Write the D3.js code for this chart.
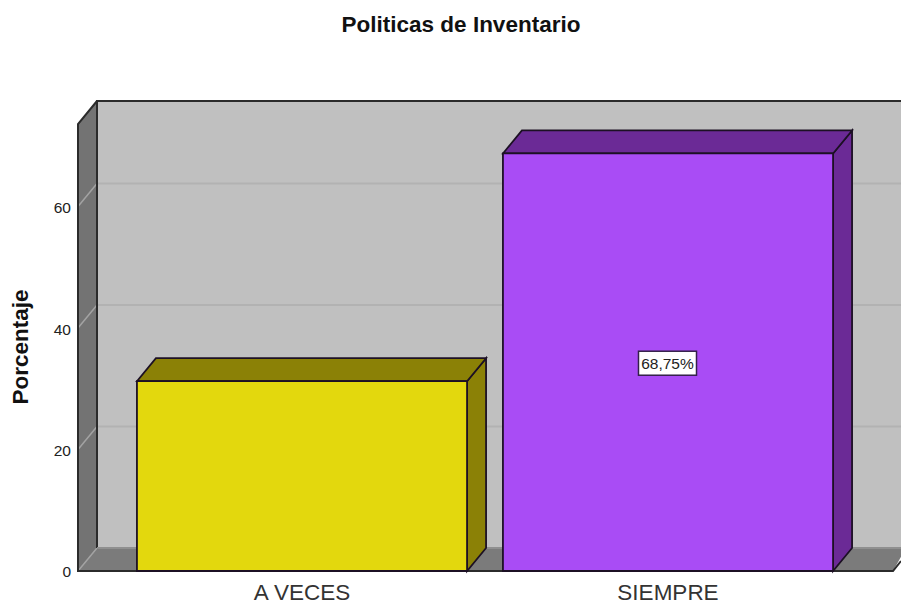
<!DOCTYPE html>
<html>
<head>
<meta charset="utf-8">
<script src="https://cdn.jsdelivr.net/npm/d3@7"></script>
<style>
  html, body { margin: 0; padding: 0; background: #fff; }
  svg { display: block; }
  text { font-family: "Liberation Sans", Arial, sans-serif; }
</style>
</head>
<body>
<div id="chart"></div>
<script>
var chartTitle = "Politicas de Inventario";
var yTitle = "Porcentaje";
var categories = ["A VECES", "SIEMPRE"];
var values = [31.25, 68.75];
var barLabels = ["", "68,75%"];
var yTicks = [0, 20, 40, 60];
var frontColors = ["#e3d80d", "#a94cf5"];
var sideColors = ["#8b8106", "#6b2a96"];

var width = 901, height = 604;
// depth offset of the fake 3d box
var depthX = 19, depthY = -23;

var svg = d3.select("#chart")
  .append("svg")
    .attr("width", width)
    .attr("height", height);

var x = d3.scaleBand()
  .domain(categories)
  .range([119, 851])
  .paddingInner(0.098)
  .paddingOuter(0.049);

var y = d3.scaleLinear()
  .domain([0, 73.6])
  .range([571, 124]);

var left = 78, right = 893;
var line = d3.line();

function poly(points, fill, stroke, sw) {
  svg.append("path")
    .attr("d", line(points) + "Z")
    .attr("fill", fill)
    .attr("stroke", stroke || "none")
    .attr("stroke-width", sw || 0)
    .attr("stroke-linejoin", "miter");
}

var y0 = y(0), yTop = y.range()[1];

// back wall
poly([[left + depthX, yTop + depthY], [width + 5, yTop + depthY], [width + 5, y0 + depthY], [left + depthX, y0 + depthY]], "#c0c0c0");
// floor
poly([[left, y0], [left + depthX, y0 + depthY], [width + 5, y0 + depthY], [right, y0]], "#7b7b7b");
// side wall
poly([[left, yTop], [left + depthX, yTop + depthY], [left + depthX, y0 + depthY], [left, y0]], "#737373");

// grid lines, on the wall and running down the side
yTicks.forEach(function(t) {
  if (t > 0) {
    svg.append("line")
      .attr("x1", left + depthX).attr("x2", width)
      .attr("y1", y(t) + depthY).attr("y2", y(t) + depthY)
      .attr("stroke", "#b2b2b2").attr("stroke-width", 2);
  }
  svg.append("line")
    .attr("x1", left).attr("x2", left + depthX)
    .attr("y1", y(t)).attr("y2", y(t) + depthY)
    .attr("stroke", "#a3a3a3").attr("stroke-width", 1.5);
});

// outlines of the box
svg.append("path")
  .attr("d", line([[width + 5, yTop + depthY], [left + depthX, yTop + depthY], [left + depthX, y0 + depthY]]))
  .attr("fill", "none").attr("stroke", "#2b2b2b").attr("stroke-width", 2);
svg.append("path")
  .attr("d", line([[left + depthX, yTop + depthY], [left, yTop], [left, y0], [right, y0], [right + 8, y0 - 10]]))
  .attr("fill", "none").attr("stroke", "#2b2b2b").attr("stroke-width", 2);
svg.append("line")
  .attr("x1", left + depthX).attr("x2", width)
  .attr("y1", y0 + depthY).attr("y2", y0 + depthY)
  .attr("stroke", "#8f8f8f").attr("stroke-width", 2);

// bars
categories.forEach(function(c, i) {
  var bx = x(c), bw = x.bandwidth(), by = y(values[i]);
  poly([[bx + bw, by], [bx + bw + depthX, by + depthY], [bx + bw + depthX, y0 + depthY], [bx + bw, y0]], sideColors[i], "#1c1024", 1.8);
  poly([[bx, by], [bx + depthX, by + depthY], [bx + bw + depthX, by + depthY], [bx + bw, by]], sideColors[i], "#1c1024", 1.8);
  poly([[bx, by], [bx + bw, by], [bx + bw, y0], [bx, y0]], frontColors[i], "#1c1024", 1.8);

  if (barLabels[i]) {
    var cx = bx + bw / 2, cy = y(values[i] / 2) + 1;
    svg.append("rect")
      .attr("x", cx - 29.5).attr("y", cy - 12)
      .attr("width", 58).attr("height", 24)
      .attr("fill", "#fff").attr("stroke", "#33204a").attr("stroke-width", 1.5);
    svg.append("text")
      .attr("x", cx - 0.5).attr("y", cy + 5.5)
      .attr("text-anchor", "middle")
      .attr("font-size", 15.5)
      .attr("fill", "#222")
      .text(barLabels[i]);
  }
});

// axes
var yAxis = d3.axisLeft(y).tickValues(yTicks).tickSize(0).tickPadding(7);
var gy = svg.append("g").attr("transform", "translate(" + left + ",1)").call(yAxis);
gy.select(".domain").remove();
gy.selectAll("text").attr("font-size", 15.5).attr("fill", "#222").style("font-family", '"Liberation Sans", Arial, sans-serif');

var xAxis = d3.axisBottom(x).tickSize(0).tickPadding(13);
var gx = svg.append("g").attr("transform", "translate(0," + y0 + ")").call(xAxis);
gx.select(".domain").remove();
gx.selectAll("text").attr("font-size", 22.5).attr("fill", "#333").style("font-family", '"Liberation Sans", Arial, sans-serif');

// titles
svg.append("text")
  .attr("x", 461).attr("y", 32)
  .attr("text-anchor", "middle")
  .attr("font-size", 22.5)
  .attr("font-weight", "bold")
  .attr("fill", "#111")
  .text(chartTitle);

svg.append("text")
  .attr("transform", "translate(28,347) rotate(-90)")
  .attr("text-anchor", "middle")
  .attr("font-size", 22.5)
  .attr("font-weight", "bold")
  .attr("fill", "#111")
  .text(yTitle);
</script>
</body>
</html>
